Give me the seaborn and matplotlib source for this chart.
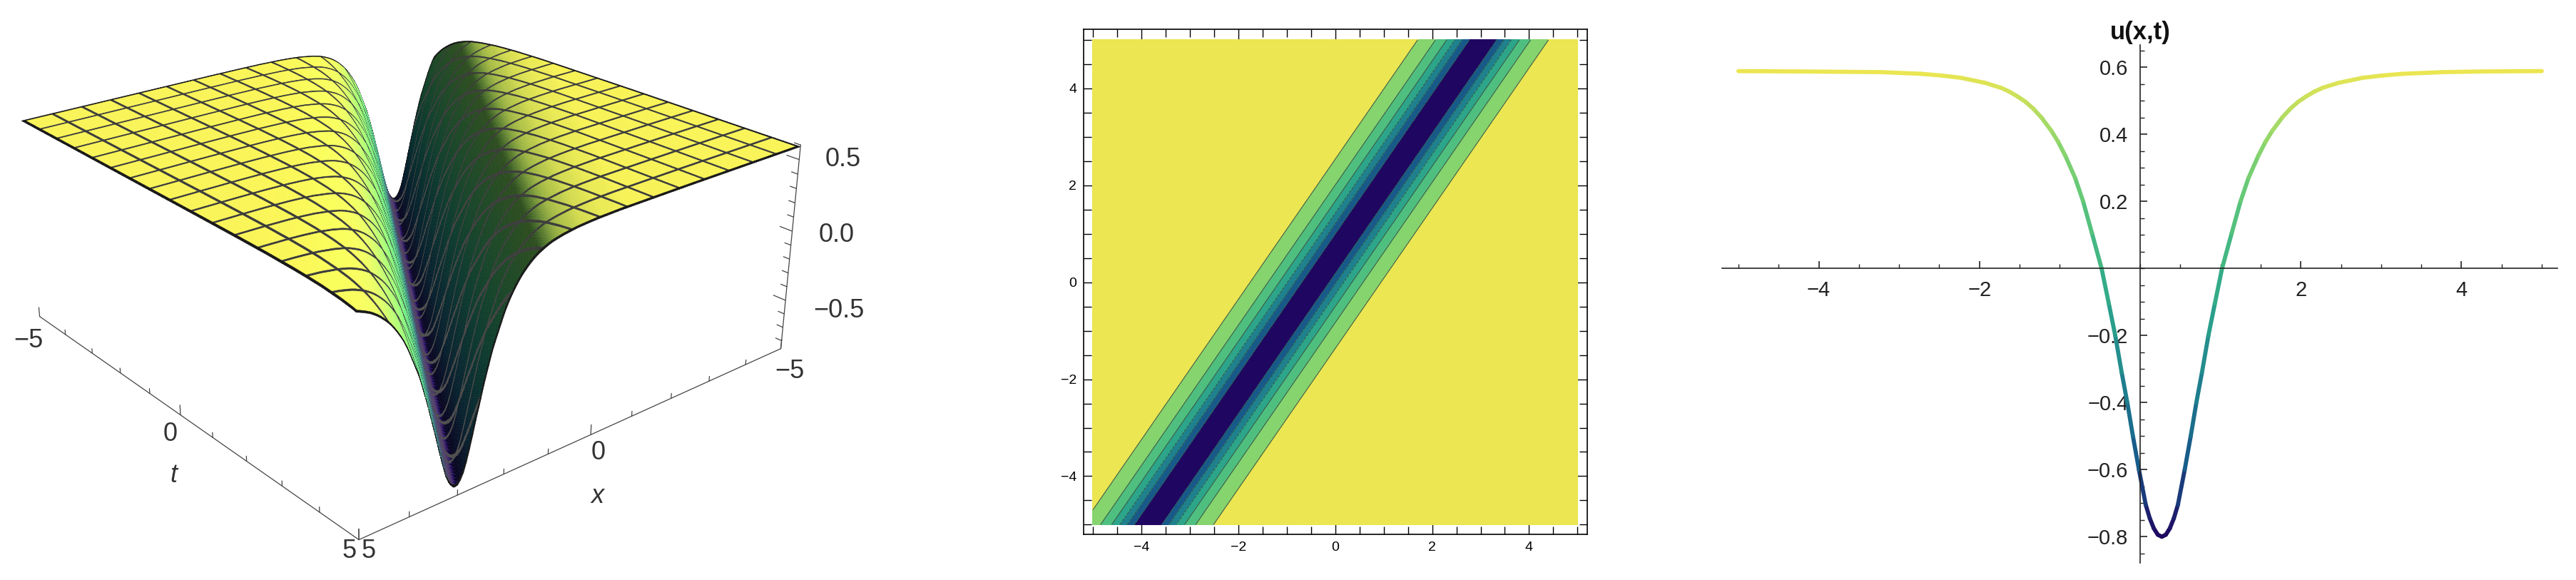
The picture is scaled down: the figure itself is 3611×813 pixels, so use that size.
import numpy as np
import pandas as pd
import matplotlib
matplotlib.use("Agg")
import matplotlib.pyplot as plt
from matplotlib.colors import LinearSegmentedColormap
from matplotlib.ticker import MultipleLocator, FixedLocator
import seaborn as sns

W, H = 3611, 813

# values
curve_x = [-5.0, -4.27, -3.23, -2.73, -2.48, -2.23, -1.93, -1.73, -1.63, -1.53, -1.43, -1.33, -1.23, -1.105,
           -1.02, -0.93, -0.81, -0.71, -0.60, -0.48, -0.39, -0.31, -0.23, -0.16, -0.09, -0.015,
           0.07, 0.12, 0.17, 0.22, 0.27, 0.32, 0.37, 0.42, 0.47, 0.555, 0.63, 0.70, 0.77, 0.85, 0.93,
           1.02, 1.14, 1.25, 1.35, 1.47, 1.56, 1.645, 1.77, 1.87, 1.97, 2.07, 2.17, 2.27, 2.47, 2.77,
           3.02, 3.27, 3.77, 4.27, 5.0]
curve_u = [0.588, 0.587, 0.585, 0.58, 0.575, 0.568, 0.553, 0.538, 0.527, 0.513, 0.497, 0.476, 0.45, 0.41,
           0.377, 0.335, 0.27, 0.20, 0.105, 0.0, -0.105, -0.20, -0.31, -0.40, -0.50, -0.60,
           -0.705, -0.745, -0.775, -0.794, -0.80, -0.794, -0.775, -0.745, -0.705, -0.60, -0.50, -0.40, -0.31, -0.20, -0.105,
           0.0, 0.105, 0.20, 0.27, 0.335, 0.377, 0.41, 0.45, 0.476, 0.497, 0.513, 0.527, 0.538, 0.553, 0.568,
           0.575, 0.58, 0.585, 0.587, 0.588]
trough_t = [-5.0, 5.0]
trough_x = [-3.86, 3.05]
contour_levels = [-1.0, -0.6, -0.4, -0.2, 0.0, 0.2, 0.4, 0.7]
band_colors = ["#1F0660", "#175A8A", "#1F818E", "#2CA58A", "#4FBF7F", "#85D46E", "#EBE651"]
curve_xticks = [-4, -2, 2, 4]
curve_yticks = [-0.8, -0.6, -0.4, -0.2, 0.2, 0.4, 0.6]
map_ticks = [-4, -2, 0, 2, 4]
surf_major = [-5, 0, 5]
surf_t_labels = ["\u22125", "0", "5"]
surf_x_labels = ["5", "0", "\u22125"]
surf_z_labels = ["0.5", "0.0", "\u22120.5"]

sns.set_theme(style="white", font="Liberation Sans")
plt.rcParams["font.family"] = ["Liberation Sans", "DejaVu Sans"]

cmap = LinearSegmentedColormap.from_list("vir", band_colors)
curve_x = np.array(curve_x)
curve_u = np.array(curve_u)


def rect(l, t, r, b):
    return [l / W, 1 - b / H, (r - l) / W, (b - t) / H]


def surface_u(X, T):
    centre = np.interp(T, trough_t, trough_x)
    return np.interp(X - centre + 0.27, curve_x, curve_u)


fig = plt.figure(figsize=(W / 100, H / 100), dpi=100, facecolor="white")

# ---------- left: 3D surface ----------
S = 1500
cx, cy = 545, 349
ax3 = fig.add_axes(rect(cx - S / 2, cy - S / 2, cx + S / 2, cy + S / 2), projection="3d")
ax3.set_axis_off()
ax3.patch.set_alpha(0)
zmin, zmax = -0.86, 0.6
ax3.set_xlim(-5, 5)
ax3.set_ylim(-5, 5)
ax3.set_zlim(zmin, zmax)
ax3.set_xticks([])
ax3.set_yticks([])
ax3.set_zticks([])
ax3.view_init(elev=23.5, azim=50.5)
ax3.set_proj_type("persp", focal_length=0.3)
ax3.set_box_aspect((1, 1, 0.405), zoom=0.72)

mesh_at = np.linspace(-5, 5, 17)
hw = 0.032
base = np.linspace(-5, 5, 161)
keep = [b for b in base if np.min(np.abs(b - mesh_at)) > hw]
grid = np.unique(np.clip(np.concatenate([keep, mesh_at - hw, mesh_at + hw]), -5, 5))
is_mesh = np.array([np.min(np.abs((a + b) / 2 - mesh_at)) < hw * 1.01 for a, b in zip(grid[:-1], grid[1:])])
X, T = np.meshgrid(grid, grid)
Z = surface_u(X, T)

xc = (grid[:-1] + grid[1:]) / 2
Xc, Tc = np.meshgrid(xc, xc)
# smooth slope for the lighting
fine_d = np.linspace(-9, 9, 1801)
fine_u = np.interp(fine_d + 0.27, curve_x, curve_u)
kernel = np.ones(25) / 25
smooth_u = np.convolve(np.pad(fine_u, 12, mode="edge"), kernel, mode="valid")
slope = np.gradient(smooth_u, fine_d)
centre_c = np.interp(Tc, trough_t, trough_x)
dd = Xc - centre_c
rate = (trough_x[1] - trough_x[0]) / (trough_t[1] - trough_t[0])
fx = np.interp(dd, fine_d, slope)
fuc = np.interp(dd, fine_d, smooth_u)
k = 2.2
nx, ny, nz = -k * fx, k * rate * fx, np.ones_like(fx)
nn = np.sqrt(nx ** 2 + ny ** 2 + nz ** 2)
L = np.array([-0.7, 0.4, 0.6])
L = L / np.linalg.norm(L)
dot = (nx * L[0] + ny * L[1] + nz * L[2]) / nn
raw = dot / L[2]
shade = np.clip(raw, 0.3, 1.0)[..., None]
bright = np.clip(raw - 1.0, 0, 0.7)[..., None]
norm_u = (fuc + 0.8) / 1.388
rgba = cmap(np.clip(norm_u, 0, 1))
rgb = rgba[..., :3] * 1.06 * shade ** np.array([1.3, 0.95, 1.0]) + bright * np.array([0.3, 0.26, 0.0])
rgb = np.clip(rgb, 0, 1)
# mesh lines are thin dark cells of the same surface
mesh_mask = is_mesh[None, :] | is_mesh[:, None]
mesh_col = np.stack([0.22 + 0.08 * (1 - norm_u)] * 3, axis=-1)
rgb = np.where(mesh_mask[..., None], mesh_col, rgb)
edge = (np.abs(Xc) > 5 - 2 * hw) | (np.abs(Tc) > 5 - 2 * hw)
rgb[edge] = 0.08
fc = np.concatenate([rgb, np.ones(rgb.shape[:2] + (1,))], axis=-1)
surf = ax3.plot_surface(X, T, Z, facecolors=fc, rcount=X.shape[0], ccount=X.shape[1],
                        shade=False, linewidth=0.35, antialiased=True)
surf.set_edgecolor(fc.reshape(-1, 4))

axis_kw = dict(color="#444444", lw=0.9)
ax3.plot3D([5, 5], [-5, 5], [zmin, zmin], **axis_kw)
ax3.plot3D([-5, 5], [5, 5], [zmin, zmin], **axis_kw)
ax3.plot3D([-5, -5], [5, 5], [zmin, zmax], **axis_kw)
for v in np.arange(-5, 6):
    h = 0.07 if v in surf_major else 0.035
    ax3.plot3D([5, 5], [v, v], [zmin, zmin + h], **axis_kw)
    ax3.plot3D([v, v], [5, 5], [zmin, zmin + h], **axis_kw)
for v in np.arange(-8, 7) / 10:
    h = 0.28 if round(v * 10) % 5 == 0 else 0.14
    ax3.plot3D([-5, -5], [5, 5 - h], [v, v], **axis_kw)

txt = dict(fontsize=26, color="#333333", ha="center", va="center")


def label_at(px, py, s, **kw):
    fig.text(px / W, 1 - py / H, s, **{**txt, **kw})


for s, (px, py) in zip(surf_t_labels, [(40, 477), (239, 608), (490, 772)]):
    label_at(px, py, s)
for s, (px, py) in zip(surf_x_labels, [(517, 772), (839, 635), (1107, 521)]):
    label_at(px, py, s)
label_at(243, 666, "t", style="italic")
label_at(838, 695, "x", style="italic")
for s, (px, py) in zip(surf_z_labels, [(1157, 223), (1148, 329), (1140, 435)]):
    label_at(px, py, s, ha="left")

# ---------- middle: contour map ----------
ax2 = fig.add_axes(rect(1519, 41, 2225, 749))
grid2 = np.linspace(-5, 5, 401)
X2, T2 = np.meshgrid(grid2, grid2)
Z2 = surface_u(X2, T2)
ax2.contourf(X2, T2, Z2, levels=contour_levels, colors=band_colors)
ax2.contour(X2, T2, Z2, levels=contour_levels[1:-1], colors="#35594a", linewidths=0.8)
ax2.set_xlim(-5.19, 5.2)
ax2.set_ylim(-5.2, 5.22)
for spine in ax2.spines.values():
    spine.set_visible(True)
    spine.set_color("black")
    spine.set_linewidth(1.2)
for axis in (ax2.xaxis, ax2.yaxis):
    axis.set_major_locator(FixedLocator(map_ticks))
    axis.set_minor_locator(MultipleLocator(0.5))
ax2.tick_params(which="major", direction="in", length=12, width=1, color="black",
                top=True, right=True, bottom=True, left=True, labelsize=14, labelcolor="black", pad=7)
ax2.tick_params(which="minor", direction="in", length=8, width=1, color="black",
                top=True, right=True, bottom=True, left=True)

# ---------- right: profile curve ----------
ax1 = fig.add_axes(rect(2414, 63, 3585, 789))
seg_rows = []
for i in range(len(curve_x) - 1):
    level = (curve_u[i] + curve_u[i + 1]) / 2
    seg_rows.append((i, curve_x[i], curve_u[i], level))
    seg_rows.append((i, curve_x[i + 1], curve_u[i + 1], level))
segments = pd.DataFrame(seg_rows, columns=["seg", "x", "u", "level"])
sns.lineplot(data=segments, x="x", y="u", units="seg", hue="level", palette=cmap,
             hue_norm=(-0.8, 0.588), estimator=None, sort=False, legend=False,
             linewidth=4.2, solid_capstyle="round", ax=ax1)
ax1.set_xlim(-5.204, 5.195)
ax1.set_ylim(-0.878, 0.666)
ax1.set_xlabel("")
ax1.set_ylabel("")
for name in ("top", "right"):
    ax1.spines[name].set_visible(False)
for name in ("bottom", "left"):
    ax1.spines[name].set_visible(True)
    ax1.spines[name].set_position(("data", 0))
    ax1.spines[name].set_color("#222222")
    ax1.spines[name].set_linewidth(1.2)
ax1.xaxis.set_major_locator(FixedLocator(curve_xticks))
ax1.yaxis.set_major_locator(FixedLocator(curve_yticks))
ax1.xaxis.set_minor_locator(MultipleLocator(0.5))
ax1.yaxis.set_minor_locator(MultipleLocator(0.05))
ax1.tick_params(which="major", direction="in", length=7, width=1.2, color="#222222",
                bottom=True, left=True, labelsize=21, labelcolor="#222222", pad=12)
ax1.tick_params(which="minor", direction="in", length=4, width=1, color="#222222",
                bottom=True, left=True)
ax1.patch.set_alpha(0)
ax1.text(0, 0.668, "u(x,t)", fontsize=25, fontweight="bold", color="#111111", ha="center", va="bottom")

fig.savefig("out.png", dpi=100)
